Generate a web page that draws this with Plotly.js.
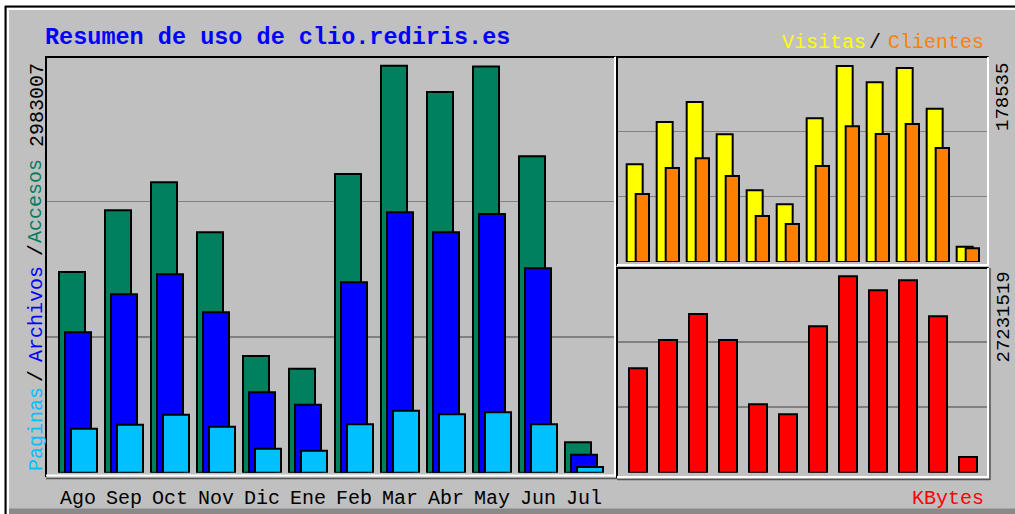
<!DOCTYPE html>
<html>
<head>
<meta charset="utf-8">
<script src="https://cdn.plot.ly/plotly-3.0.1.min.js"></script>
<style>html,body{margin:0;padding:0;background:#fff;}#chart{width:1015px;height:514px;}</style>
</head>
<body>
<div id="chart"></div>
<script>
// ---- Data ----
var months   = ['Ago','Sep','Oct','Nov','Dic','Ene','Feb','Mar','Abr','May','Jun','Jul'];
var accesos  = [1471000,1923200,2128400,1762000,855300,762200,2189200,2983007,2790300,2978000,2319000,222800];
var archivos = [1029000,1307500,1454100,1175600,589300,498400,1395500,1908500,1762000,1896100,1498100,131900];
var paginas  = [322500,351800,425100,337100,175900,161200,354700,454400,428000,442700,354700,41800];
var visitas  = [89000,127500,145700,116300,65300,52600,130900,178535,163700,176700,139600,13900];
var clientes = [61900,85600,94500,78300,41900,34600,87400,123600,116600,125700,103800,12500];
var kbytes   = [14480000,18400000,22000000,18400000,9480000,8100000,20300000,27231519,25290000,26680000,21690000,2180000];

var titleText = 'Resumen de uso de clio.rediris.es';
var lblAccesos = 'Accesos', lblArchivos = 'Archivos', lblPaginas = 'Paginas';
var lblVisitas = 'Visitas', lblClientes = 'Clientes', lblKBytes = 'KBytes';

// ---- Layout helpers (pixel -> paper) ----
var W = 1015, H = 514;
function px(x){ return x / W; }
function py(y){ return 1 - y / H; }

var C = {
  bg:'#C0C0C0', grid:'#808080',
  acc:'#00805C', arc:'#0000FF', pag:'#00C0FF',
  vis:'#FFFF00', cli:'#FF8000', kb:'#FF0000'
};
var MONO = 'Liberation Mono, DejaVu Sans Mono, monospace';

var maxAcc = Math.max.apply(null, accesos);
var maxVis = Math.max.apply(null, visitas);
var maxKb  = Math.max.apply(null, kbytes);

function bar(y, color, xa, ya, offset, width){
  return {
    type:'bar', x:months, y:y, xaxis:xa, yaxis:ya,
    offset:offset, width:width,
    marker:{color:color, line:{color:'#000', width:2}},
    hoverinfo:'y', showlegend:false
  };
}

var data = [
  bar(accesos,  C.acc, 'x',  'y',  -0.413, 0.565),
  bar(archivos, C.arc, 'x',  'y',  -0.283, 0.565),
  bar(paginas,  C.pag, 'x',  'y',  -0.152, 0.565),
  bar(visitas,  C.vis, 'x2', 'y2', -0.377, 0.533),
  bar(clientes, C.cli, 'x2', 'y2', -0.077, 0.444),
  bar(kbytes,   C.kb,  'x3', 'y3', -0.300, 0.600)
];

function yax(domain, max, factor){
  return {
    domain:domain, range:[0, max*factor], fixedrange:true,
    tickvals:[max/3, 2*max/3], showticklabels:false, ticks:'',
    showgrid:true, gridcolor:C.grid, gridwidth:1.5,
    zeroline:false, showline:false
  };
}

var layout = {
  width:W, height:H,
  margin:{l:0,r:0,t:0,b:0,pad:0},
  paper_bgcolor:C.bg, plot_bgcolor:C.bg,
  barmode:'overlay',
  xaxis:{
    domain:[px(47), px(614)], range:[-0.674, 11.652], type:'category',
    showgrid:false, zeroline:false, showline:false, ticks:'',
    tickfont:{family:MONO, size:20, color:'#000'}, ticklabelstandoff:10,
    anchor:'y', fixedrange:true
  },
  yaxis:yax([py(472.7), py(58)], maxAcc, 1.019),
  xaxis2:{
    domain:[px(617), px(987.7)], range:[-0.7, 11.657], type:'category',
    showgrid:false, zeroline:false, showline:false, ticks:'', showticklabels:false,
    anchor:'y2', fixedrange:true
  },
  yaxis2:yax([py(262), py(58)], maxVis, 1.041),
  xaxis3:{
    domain:[px(617), px(987.7)], range:[-0.7, 11.657], type:'category',
    showgrid:false, zeroline:false, showline:false, ticks:'', showticklabels:false,
    anchor:'y3', fixedrange:true
  },
  yaxis3:yax([py(472.7), py(270)], maxKb, 1.032),
  shapes:[],
  annotations:[]
};

function line(x0,y0,x1,y1,color,w){
  layout.shapes.push({type:'line', xref:'paper', yref:'paper',
    x0:px(x0), y0:py(y0), x1:px(x1), y1:py(y1), line:{color:color, width:w||2}, layer:'above'});
}
function rect(x0,y0,x1,y1,color){
  layout.shapes.push({type:'rect', xref:'paper', yref:'paper',
    x0:px(x0), y0:py(y0), x1:px(x1), y1:py(y1), fillcolor:color, line:{width:0}, layer:'below'});
}

// outer frame
rect(0,0,W,6,'#FFFFFF');
rect(0,0,5,H,'#FFFFFF');
rect(9,508.5,W,H,'#8A8A8A');
line(5,6.5,W,6.5,'#000',2);
line(5.5,6,5.5,H,'#000',2);
line(7,9,W,9,'#FFFFFF',2);
line(8,9,8,H,'#FFFFFF',2);

// left plot frame
line(46,57,615.5,57,'#000',2);
line(46,56,46,477,'#000',2);
line(46,475.5,615.5,475.5,'#FFFFFF',2);
line(615,57,615,476.5,'#FFFFFF',2);
line(46,478.5,617,478.5,'#555',1.5);
// top-right frame
line(617,57,988.5,57,'#000',2);
line(617,56,617,266,'#000',2);
line(617,265,988.5,265,'#FFFFFF',2);
line(988,57,988,266,'#FFFFFF',2);
// bottom-right frame
line(617,268,988.5,268,'#000',2);
line(617,267,617,478,'#000',2);
line(617,477,988.5,477,'#FFFFFF',2);
line(988,268,988,478,'#FFFFFF',2);
line(617,479.5,990,479.5,'#555',1.5);
line(990,268,990,480,'#555',1.5);

function ann(text, x, y, opts){
  var a = {xref:'paper', yref:'paper', x:px(x), y:py(y), text:text, showarrow:false,
    font:{family:MONO, size:20, color:'#000'}, xanchor:'center', yanchor:'middle', borderpad:0};
  for (var k in opts){ if (k==='font'){ for (var f in opts.font) a.font[f]=opts.font[f]; } else a[k]=opts[k]; }
  layout.annotations.push(a);
}

// title
ann('<b>'+titleText+'</b>', 44, 38, {xanchor:'left', font:{size:23.5, color:'#0000FF'}});
// left vertical labels
ann(String(maxAcc), 37, 62, {textangle:-90, yanchor:'top'});
ann(lblAccesos, 36, 201, {textangle:-90, font:{color:C.acc}});
ann('/', 36, 250, {textangle:-90});
ann(lblArchivos, 36, 314, {textangle:-90, font:{color:C.arc}});
ann('/', 36, 376, {textangle:-90});
ann(lblPaginas, 36, 472, {textangle:-90, yanchor:'bottom', font:{color:C.pag}});
// right side labels
ann(lblVisitas, 781, 42, {xanchor:'left', font:{color:C.vis}});
ann('/', 875, 42, {});
ann(lblClientes, 985, 42, {xanchor:'right', font:{color:C.cli}});
ann(String(maxVis), 1003, 62, {textangle:-90, yanchor:'top', font:{size:19}});
ann(String(maxKb), 1003, 271, {textangle:-90, yanchor:'top', font:{size:19}});
ann(lblKBytes, 985, 498, {xanchor:'right', font:{color:C.kb}});

Plotly.newPlot('chart', data, layout, {displayModeBar:false, staticPlot:true});
</script>
</body>
</html>
